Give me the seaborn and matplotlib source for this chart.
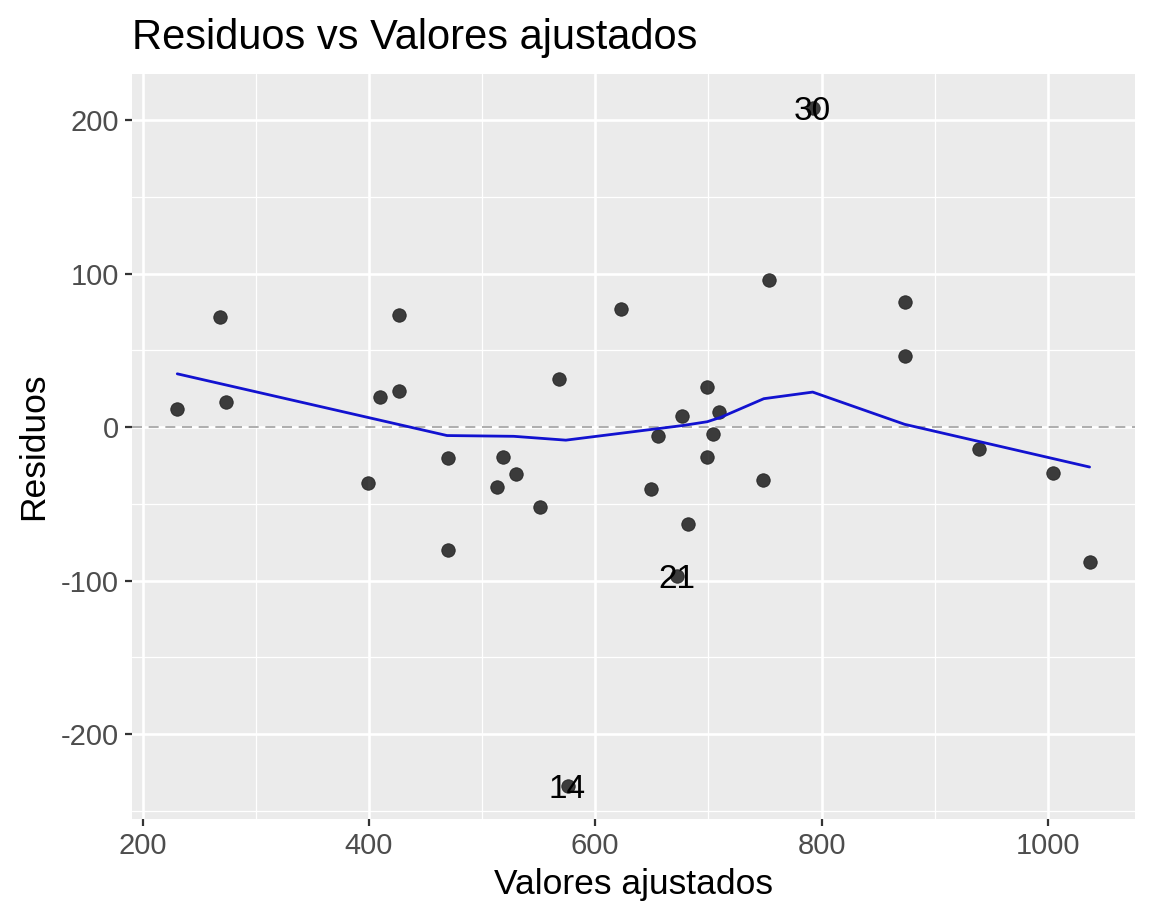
import matplotlib
matplotlib.use("Agg")
import matplotlib.pyplot as plt
import seaborn as sns
import pandas as pd
from matplotlib.ticker import MultipleLocator

# Data
fitted = [230.0, 268.4, 273.4, 398.8, 410.0, 426.5, 426.5, 469.5, 469.5, 513.3,
          518.5, 529.8, 551.5, 568.1, 575.5, 622.7, 649.6, 655.1, 672.0, 677.0,
          682.3, 698.5, 698.8, 704.3, 709.7, 748.2, 753.7, 792.1, 873.9, 873.9,
          939.0, 1004.4, 1036.9]
residuals = [11.9, 71.6, 16.3, -36.4, 19.7, 73.1, 23.2, -20.4, -80.3, -39.0,
             -19.5, -30.4, -52.0, 31.2, -234.0, 76.8, -40.3, -6.1, -97.2, 7.5,
             -63.1, 25.8, -19.5, -4.8, 10.0, -34.4, 95.6, 208.0, 81.3, 46.1,
             -14.2, -29.7, -87.7]

# smoother (lowess) vertices
smooth_x = [230.6, 469.0, 528.0, 574.0, 677.0, 699.0, 711.0, 749.0, 792.2, 873.5, 1036.9]
smooth_y = [34.7, -5.5, -6.0, -8.5, 1.0, 3.5, 6.4, 18.5, 22.8, 1.8, -26.0]

# labelled outliers
label_ids = ["30", "21", "14"]
label_x = [792.1, 672.0, 575.5]
label_y = [208.0, -97.2, -234.0]

x_ticks = [200, 400, 600, 800, 1000]
y_ticks = [-200, -100, 0, 100, 200]

sns.set_theme(style="darkgrid")
plt.rcParams['font.family'] = ['Liberation Sans', 'DejaVu Sans']
plt.rcParams['axes.unicode_minus'] = False

df = pd.DataFrame({"fitted": fitted, "resid": residuals})
sm = pd.DataFrame({"x": smooth_x, "y": smooth_y})

fig = plt.figure(figsize=(11.52, 9.22), dpi=100)
ax = fig.add_axes([0.1143, 0.1117, 0.9852 - 0.1143, 0.9197 - 0.1117])
ax.set_facecolor("#EBEBEB")

ax.axhline(0, color="#A0A0A0", lw=1.2, ls=(0, (6, 4)), zorder=2)
sns.scatterplot(data=df, x="fitted", y="resid", ax=ax, color="black", alpha=0.75,
                s=95, edgecolor="#111111", linewidth=0.6, zorder=3, legend=False)
sns.lineplot(data=sm, x="x", y="y", ax=ax, color="#1212D0", lw=2.0, sort=False,
             estimator=None, zorder=4)

for t, xx, yy in zip(label_ids, label_x, label_y):
    ax.text(xx, yy, t, ha="center", va="center_baseline", fontsize=24, color="black", zorder=5)

ax.set_xlim(190.3, 1077)
ax.set_ylim(-255.2, 229.9)
ax.set_xticks(x_ticks)
ax.set_yticks(y_ticks)
ax.xaxis.set_minor_locator(MultipleLocator(100))
ax.yaxis.set_minor_locator(MultipleLocator(50))
ax.grid(which="major", color="white", lw=1.9)
ax.grid(which="minor", color="white", lw=0.9)
ax.set_axisbelow(True)
for sp in ax.spines.values():
    sp.set_visible(False)
ax.tick_params(axis="both", which="major", length=5, width=1.6, color="#333333",
               labelsize=21, labelcolor="#4D4D4D", pad=4, bottom=True, left=True)
ax.tick_params(axis="both", which="minor", length=0)

ax.set_xlabel("Valores ajustados", fontsize=25.5, color="black", labelpad=6)
ax.set_ylabel("Residuos", fontsize=25.5, color="black", labelpad=8)
ax.set_title("Residuos vs Valores ajustados", fontsize=30, loc="left", pad=18, color="black")

fig.savefig("out.png", dpi=100, facecolor="white")
